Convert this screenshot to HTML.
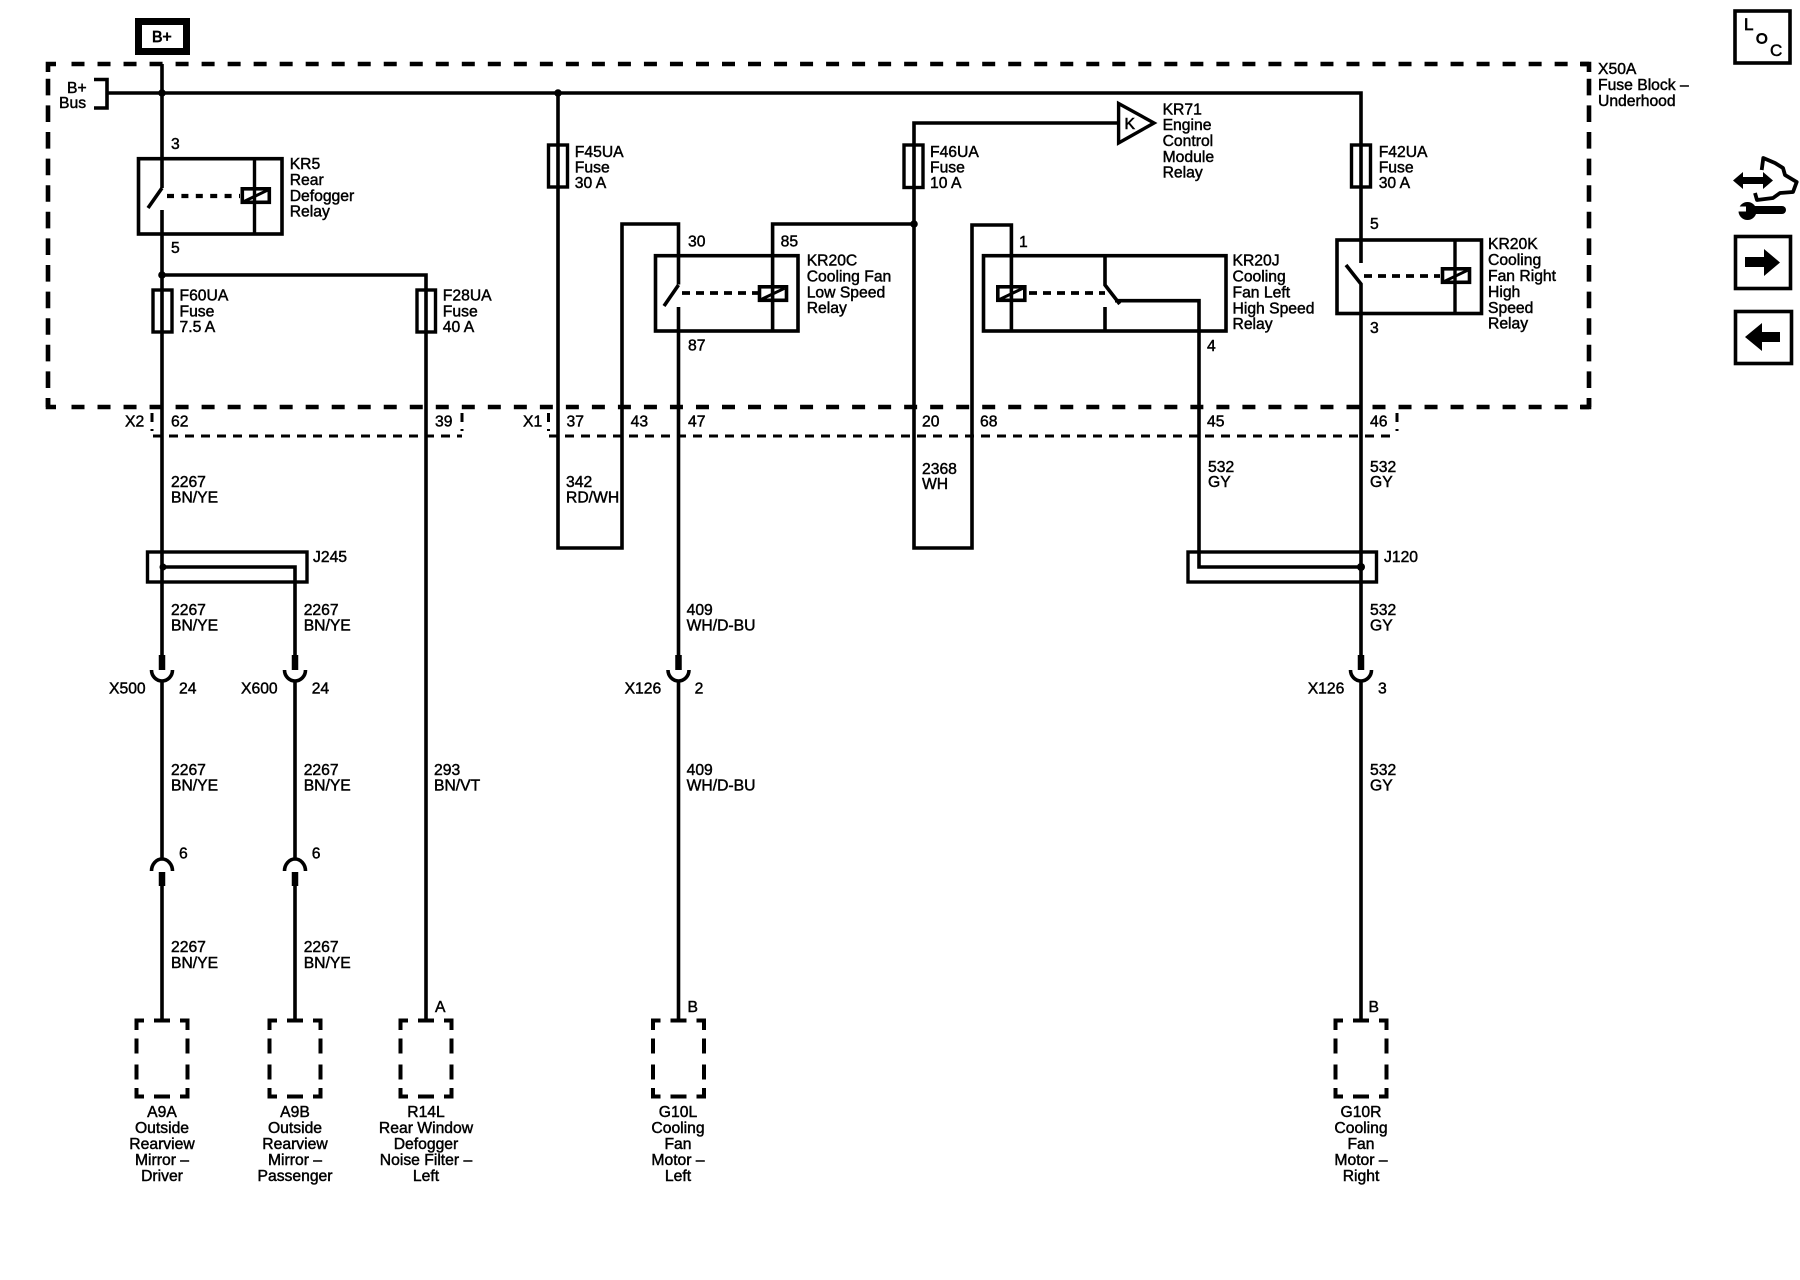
<!DOCTYPE html>
<html><head><meta charset="utf-8"><title>Cooling fan wiring</title>
<style>
html,body{margin:0;padding:0;background:#fff;width:1800px;height:1280px;overflow:hidden}
svg{display:block}
text{font-family:"Liberation Sans",sans-serif;font-size:15.7px;fill:#000;stroke:#000;stroke-width:.45px}
.c{text-anchor:middle}
.w{fill:none;stroke:#000;stroke-width:3.6}
.b{fill:none;stroke:#000;stroke-width:3.6}
.f{fill:none;stroke:#000;stroke-width:3.4}
.k{fill:#000;stroke:none}
.dh{fill:none;stroke:#000;stroke-width:4.6;stroke-dasharray:13 13.02}
.dv{fill:none;stroke:#000;stroke-width:4.6;stroke-dasharray:16.6 10;stroke-dashoffset:7.6}
.d2{fill:none;stroke:#000;stroke-width:3;stroke-dasharray:9 7}
.rd{fill:none;stroke:#000;stroke-width:3.8;stroke-dasharray:8 6}
.tk{fill:none;stroke:#000;stroke-width:6.5}
</style></head><body>
<svg width="1800" height="1280" viewBox="0 0 1800 1280" xmlns="http://www.w3.org/2000/svg">
<defs>
<g id="top"><path class="tk" d="M0 -26V-11"/><path class="b" d="M-10.5 -11A10.5 11 0 0 0 10.5 -11"/></g>
<g id="bot"><path class="tk" d="M0 14V28"/><path class="b" d="M-10.5 13A10.5 12 0 0 1 10.5 13"/></g>
<g id="comp">
<path fill="none" stroke="#000" stroke-width="4" d="M-25.5 8V-1.5H-18M-8 -1.5H8M18 -1.5H25.5V8M-25.5 16.5V31.5M25.5 16.5V31.5M-25.5 42.5V57.5M25.5 42.5V57.5M-25.5 66V74.5H-18M-8 74.5H8M18 74.5H25.5V66"/>
</g>
<g id="coil"><rect class="b" x="0" y="0" width="27" height="13.5"/><path fill="none" stroke="#000" stroke-width="3" d="M2 12.5L25 1.5"/></g>
</defs>

<!-- B+ -->
<rect x="138.5" y="21.5" width="48" height="30" fill="none" stroke="#000" stroke-width="7"/>
<text x="152" y="42" style="stroke-width:.8">B+</text>

<!-- main dashed block -->
<path class="dh" d="M71.5 64H1589"/>
<path class="dh" d="M71.5 407H1589"/>
<path class="dv" d="M48 407V78"/>
<path class="dv" d="M1589 407V78"/>
<path fill="none" stroke="#000" stroke-width="4.6" d="M48 72V64H56M48 398V407H56M1580 64H1589V72M1580 407H1589V398"/>

<!-- secondary dashed -->
<path class="d2" d="M153 436H462"/>
<path class="d2" d="M152 413V431"/>
<path class="d2" d="M462 413V431"/>
<path class="d2" d="M549 436H1397"/>
<path class="d2" d="M548.5 413V431"/>
<path class="d2" d="M1397 413V431"/>

<!-- bus -->
<path class="b" d="M94 79.5H107V108H94"/>
<path class="w" d="M107 93H1361V263"/>
<circle class="k" cx="162" cy="93" r="3.8"/>
<circle class="k" cx="558" cy="93" r="3.8"/>

<!-- wire 162 -->
<path class="w" d="M162 64V188M162 210V657M162 681V859M162 884V1020"/>
<path fill="none" stroke="#000" stroke-width="3.6" d="M162 188L148 208"/>
<use href="#top" x="162" y="681"/>
<use href="#bot" x="162" y="858"/>
<circle class="k" cx="162" cy="275" r="3.8"/>
<path class="w" d="M162 275H426V1020"/>

<!-- KR5 -->
<rect class="b" x="138.5" y="158.7" width="143.5" height="75.3"/>
<path class="f" d="M254.5 158.7V234"/>
<path class="rd" d="M167 196H240" style="stroke-dasharray:7 7.4;stroke-width:4.2"/>
<use href="#coil" x="242.3" y="188.8"/>

<!-- fuses -->
<rect class="f" x="153" y="290" width="19" height="42" fill="none"/>
<rect class="f" x="417" y="290" width="18.5" height="42"/>
<rect class="f" x="548.5" y="145" width="19" height="42"/>
<rect class="f" x="904" y="145" width="19" height="42.5"/>
<rect class="f" x="1351.5" y="145" width="19" height="42"/>

<!-- F45 loop -->
<path class="w" d="M558 93V548H622V224H678.5V284.5M678.5 307V657M678.5 681V1020"/>
<path class="w" d="M678.5 285L664 306"/>
<use href="#top" x="678.5" y="681"/>
<!-- KR20C -->
<rect class="b" x="655.5" y="255.7" width="142.5" height="75.3"/>
<path class="w" d="M914 224H772.6V331"/>
<path class="rd" d="M682 293H758"/>
<use href="#coil" x="759.5" y="286.8"/>
<circle class="k" cx="914" cy="224" r="3.8"/>

<!-- F46 -->
<path class="w" d="M1119 123H914V548H972V225H1011.4V331"/>
<path class="f" d="M1118.6 103.5V143L1154 123Z" stroke-linejoin="miter"/>

<!-- KR20J -->
<rect class="b" x="983.5" y="255.7" width="242.5" height="75.3"/>
<use href="#coil" x="997.8" y="286.8"/>
<path class="rd" d="M1029 293H1105"/>
<path class="w" d="M1105 255.7V285L1119.7 304M1105 307V331"/>
<path class="w" d="M1115 300.7H1199V567H1361"/>
<circle class="k" cx="1361" cy="567" r="4"/>

<!-- KR20K -->
<rect class="b" x="1337" y="240" width="144.5" height="73.5"/>
<path class="f" d="M1455 240V313.5"/>
<path class="w" d="M1346 265L1361 284V657M1361 681V1020"/>
<path class="rd" d="M1364 276H1440"/>
<use href="#coil" x="1442.5" y="268.8"/>
<use href="#top" x="1361" y="681"/>

<!-- J245 / J120 -->
<rect class="f" x="147.5" y="552" width="159.5" height="30"/>
<path class="w" d="M162 567H295V657M295 681V859M295 884V1020"/>
<circle class="k" cx="163" cy="567" r="3.5"/>
<use href="#top" x="295" y="681"/>
<use href="#bot" x="295" y="858"/>
<rect class="f" x="1188" y="552" width="188.5" height="30"/>

<!-- components -->
<use href="#comp" x="162" y="1022"/>
<use href="#comp" x="295" y="1022"/>
<use href="#comp" x="426" y="1022"/>
<use href="#comp" x="678.5" y="1022"/>
<use href="#comp" x="1361" y="1022"/>

<!-- labels -->
<text x="67" y="93">B+</text><text x="59" y="108">Bus</text>
<text x="171" y="149">3</text><text x="171" y="253">5</text>
<text x="289.7" y="169">KR5</text><text x="289.7" y="185">Rear</text><text x="289.7" y="201">Defogger</text><text x="289.7" y="216.7">Relay</text>
<text x="179.5" y="300.7">F60UA</text><text x="179.5" y="316.7">Fuse</text><text x="179.5" y="332">7.5 A</text>
<text x="442.8" y="300.7">F28UA</text><text x="442.8" y="316.7">Fuse</text><text x="442.8" y="332">40 A</text>
<text x="574.8" y="157">F45UA</text><text x="574.8" y="172.5">Fuse</text><text x="574.8" y="188">30 A</text>
<text x="930" y="157">F46UA</text><text x="930" y="172.5">Fuse</text><text x="930" y="188">10 A</text>
<text x="1378.7" y="157">F42UA</text><text x="1378.7" y="172.5">Fuse</text><text x="1378.7" y="188">30 A</text>
<text x="1124.5" y="129" style="stroke-width:.6">K</text>
<text x="1162.6" y="114.7">KR71</text><text x="1162.6" y="130">Engine</text><text x="1162.6" y="146">Control</text><text x="1162.6" y="162">Module</text><text x="1162.6" y="177.7">Relay</text>
<text x="1598" y="74">X50A</text><text x="1598" y="90">Fuse Block –</text><text x="1598" y="106">Underhood</text>
<text x="806.7" y="265.7">KR20C</text><text x="806.7" y="281.7">Cooling Fan</text><text x="806.7" y="297.7">Low Speed</text><text x="806.7" y="313">Relay</text>
<text x="1232.5" y="265.7">KR20J</text><text x="1232.5" y="281.7">Cooling</text><text x="1232.5" y="297.5">Fan Left</text><text x="1232.5" y="313.5">High Speed</text><text x="1232.5" y="329">Relay</text>
<text x="1488" y="249">KR20K</text><text x="1488" y="265">Cooling</text><text x="1488" y="281">Fan Right</text><text x="1488" y="297">High</text><text x="1488" y="313">Speed</text><text x="1488" y="328.7">Relay</text>
<text x="688" y="246.7">30</text><text x="780.6" y="246.5">85</text><text x="688" y="350.7">87</text><text x="1019" y="247">1</text><text x="1207" y="351">4</text><text x="1370" y="229">5</text><text x="1370" y="333">3</text>
<text x="125" y="426.7">X2</text><text x="171" y="426.7">62</text><text x="435" y="426.7">39</text><text x="523" y="426.7">X1</text><text x="566.5" y="426.7">37</text><text x="630.6" y="426.7">43</text><text x="688" y="426.7">47</text><text x="922" y="426.7">20</text><text x="980" y="426.7">68</text><text x="1207" y="426.7">45</text><text x="1370" y="426.7">46</text>
<text x="171" y="487">2267</text><text x="171" y="502.5">BN/YE</text>
<text x="566" y="487">342</text><text x="566" y="502.5">RD/WH</text>
<text x="922" y="474">2368</text><text x="922" y="489">WH</text>
<text x="1208" y="472">532</text><text x="1208" y="487">GY</text>
<text x="1370" y="472">532</text><text x="1370" y="487">GY</text>
<text x="313" y="562">J245</text><text x="1384" y="562">J120</text>
<text x="171" y="615">2267</text><text x="171" y="630.7">BN/YE</text>
<text x="303.7" y="615">2267</text><text x="303.7" y="630.7">BN/YE</text>
<text x="686.6" y="615">409</text><text x="686.6" y="630.7">WH/D-BU</text>
<text x="1370" y="615">532</text><text x="1370" y="630.7">GY</text>
<text x="109" y="693.3">X500</text><text x="179" y="693.3">24</text><text x="241" y="693.3">X600</text><text x="311.7" y="693.3">24</text>
<text x="624.6" y="693.3">X126</text><text x="694.6" y="693.3">2</text><text x="1307.7" y="693.3">X126</text><text x="1378" y="693.3">3</text>
<text x="171" y="775">2267</text><text x="171" y="790.7">BN/YE</text>
<text x="303.7" y="775">2267</text><text x="303.7" y="790.7">BN/YE</text>
<text x="434" y="775">293</text><text x="434" y="790.7">BN/VT</text>
<text x="686.6" y="775">409</text><text x="686.6" y="790.7">WH/D-BU</text>
<text x="1370" y="775">532</text><text x="1370" y="790.7">GY</text>
<text x="179" y="858.3">6</text><text x="311.7" y="858.3">6</text>
<text x="171" y="952">2267</text><text x="171" y="968">BN/YE</text>
<text x="303.7" y="952">2267</text><text x="303.7" y="968">BN/YE</text>
<text x="435" y="1012">A</text><text x="687.5" y="1012">B</text><text x="1368.5" y="1012">B</text>

<g class="c">
<text class="c" x="162" y="1117">A9A</text><text class="c" x="162" y="1133">Outside</text><text class="c" x="162" y="1149">Rearview</text><text class="c" x="162" y="1165">Mirror –</text><text class="c" x="162" y="1181">Driver</text>
<text class="c" x="295" y="1117">A9B</text><text class="c" x="295" y="1133">Outside</text><text class="c" x="295" y="1149">Rearview</text><text class="c" x="295" y="1165">Mirror –</text><text class="c" x="295" y="1181">Passenger</text>
<text class="c" x="426" y="1117">R14L</text><text class="c" x="426" y="1133">Rear Window</text><text class="c" x="426" y="1149">Defogger</text><text class="c" x="426" y="1165">Noise Filter –</text><text class="c" x="426" y="1181">Left</text>
<text class="c" x="678" y="1117">G10L</text><text class="c" x="678" y="1133">Cooling</text><text class="c" x="678" y="1149">Fan</text><text class="c" x="678" y="1165">Motor –</text><text class="c" x="678" y="1181">Left</text>
<text class="c" x="1361" y="1117">G10R</text><text class="c" x="1361" y="1133">Cooling</text><text class="c" x="1361" y="1149">Fan</text><text class="c" x="1361" y="1165">Motor –</text><text class="c" x="1361" y="1181">Right</text>
</g>

<!-- side icons -->
<rect class="b" x="1735" y="11" width="55" height="52"/>
<text x="1744" y="30" style="font-size:17px;stroke-width:.7">L</text>
<text x="1756" y="43.5" style="font-size:15px;stroke-width:.9">O</text>
<text x="1770" y="56" style="font-size:17px;stroke-width:.5">C</text>
<rect class="b" x="1735.5" y="236.5" width="55" height="52"/>
<path class="k" d="M1745 257H1764V249L1780 262.5L1764 276V267H1745Z"/>
<rect class="b" x="1735.5" y="311.5" width="56" height="52"/>
<path class="k" d="M1745 337L1762 323V332H1780V342H1762V351Z"/>
<path class="k" d="M1733 180.5L1743 172V177H1763V172L1773 180.5L1763 189V184H1743V189Z"/>
<path fill="none" stroke="#000" stroke-width="3.8" stroke-linejoin="round" d="M1761.7 170L1763.3 158L1775 163L1783 168L1785 175L1796.7 182L1793 192L1780 193L1773 198L1757 200L1755 193"/>
<path fill="none" stroke="#000" stroke-width="8" stroke-linecap="round" d="M1750 210H1782"/>
<circle class="k" cx="1747.5" cy="211" r="9"/>
<path fill="#fff" d="M1737 206.5H1746V211.5H1737Z"/>
</svg>
</body></html>
